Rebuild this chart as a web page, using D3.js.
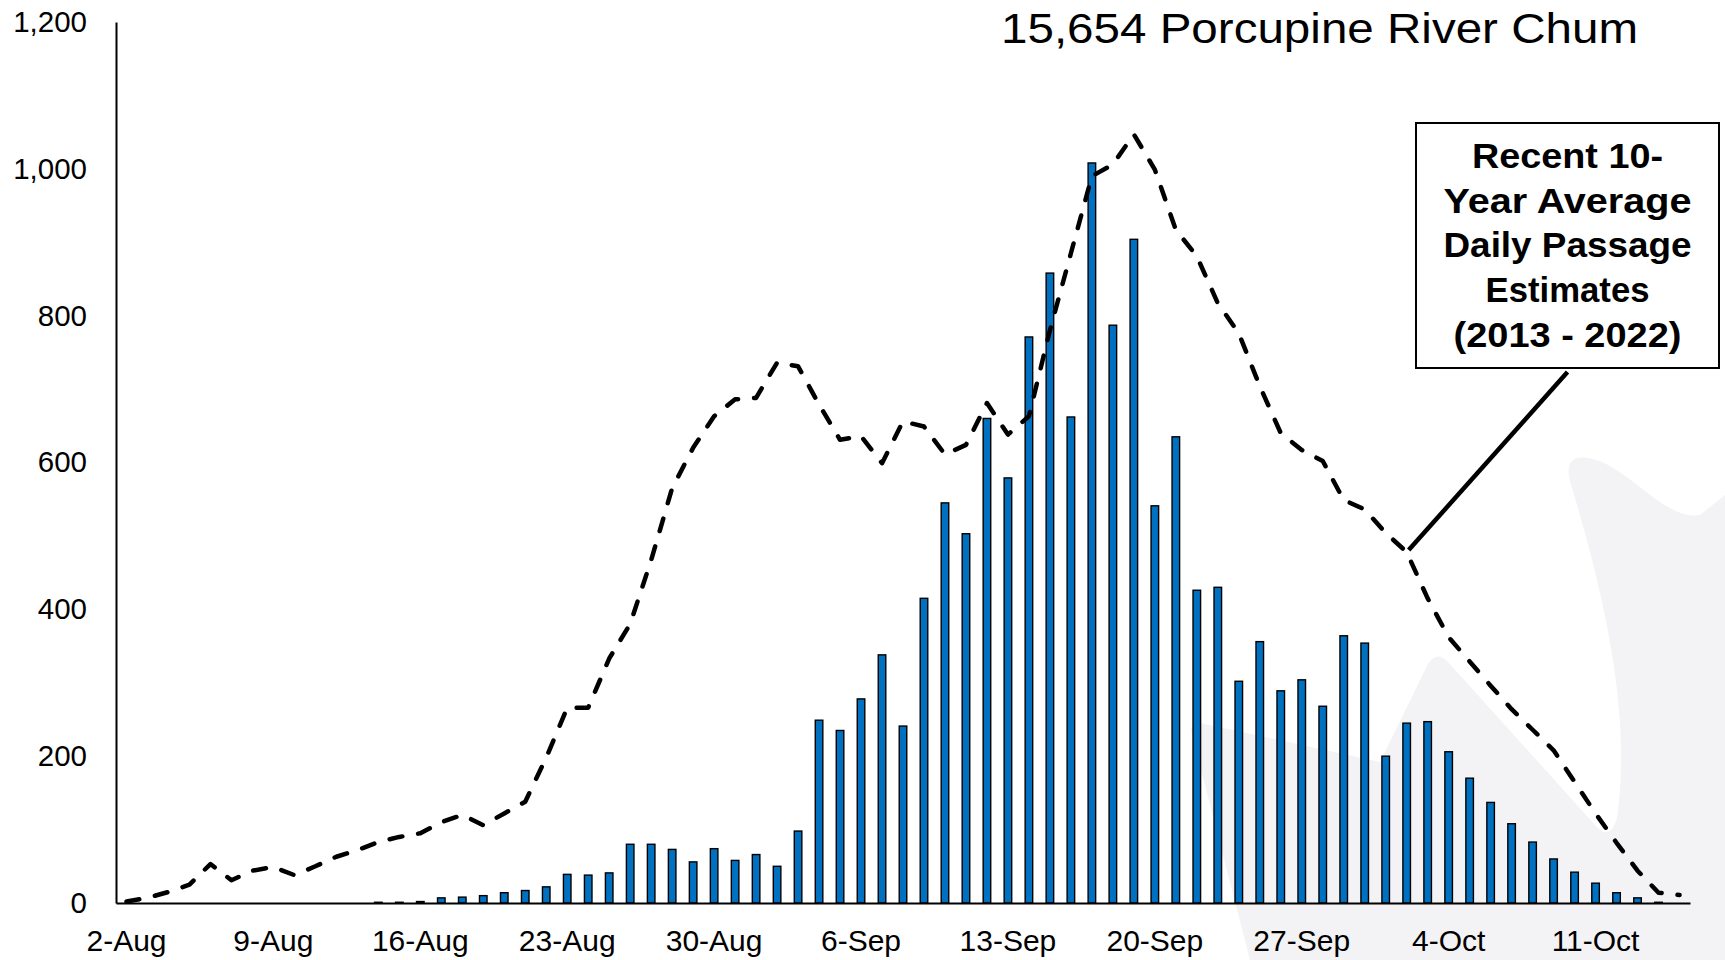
<!DOCTYPE html>
<html>
<head>
<meta charset="utf-8">
<script src="https://d3js.org/d3.v7.min.js"></script>
<style>
  html, body { margin: 0; padding: 0; background: #fff; }
  svg { display: block; }
  text { font-family: "Liberation Sans", Arial, sans-serif; fill: #000; }
</style>
</head>
<body>
<div id="chart"></div>
<script>
// days on the x axis (2-Aug .. 15-Oct)
var days = [
  "2-Aug","3-Aug","4-Aug","5-Aug","6-Aug","7-Aug","8-Aug","9-Aug","10-Aug","11-Aug",
  "12-Aug","13-Aug","14-Aug","15-Aug","16-Aug","17-Aug","18-Aug","19-Aug","20-Aug","21-Aug",
  "22-Aug","23-Aug","24-Aug","25-Aug","26-Aug","27-Aug","28-Aug","29-Aug","30-Aug","31-Aug",
  "1-Sep","2-Sep","3-Sep","4-Sep","5-Sep","6-Sep","7-Sep","8-Sep","9-Sep","10-Sep",
  "11-Sep","12-Sep","13-Sep","14-Sep","15-Sep","16-Sep","17-Sep","18-Sep","19-Sep","20-Sep",
  "21-Sep","22-Sep","23-Sep","24-Sep","25-Sep","26-Sep","27-Sep","28-Sep","29-Sep","30-Sep",
  "1-Oct","2-Oct","3-Oct","4-Oct","5-Oct","6-Oct","7-Oct","8-Oct","9-Oct","10-Oct",
  "11-Oct","12-Oct","13-Oct","14-Oct","15-Oct"
];

// 2023 daily passage (bars)
var passage = [
  0,0,0,0,0,0,0,0,0,0,
  0,0,1,1,2,7,8,10,14,17,
  22,39,38,41,80,80,73,56,74,58,
  66,50,98,249,235,278,338,241,415,545,
  503,660,579,771,858,662,1008,787,904,541,
  635,426,430,302,356,289,304,268,364,354,
  200,245,247,206,170,137,108,83,60,42,
  27,14,7,1,0
];

// recent 10-year average daily passage (dashed line)
var average = [
  2,7,15,25,53,31,44,49,38,50,
  63,72,83,90,95,110,120,106,122,138,
  198,266,266,333,380,467,565,620,663,686,
  688,736,731,679,631,636,599,656,649,611,
  624,681,638,663,780,885,990,1006,1047,999,
  917,881,817,776,704,640,617,602,549,536,
  504,478,415,362,329,296,264,236,208,165,
  122,82,44,14,11
];

var xTicks = ["2-Aug","9-Aug","16-Aug","23-Aug","30-Aug","6-Sep","13-Sep","20-Sep","27-Sep","4-Oct","11-Oct"];
var yTicks = [0,200,400,600,800,1000,1200];

var title = "15,654 Porcupine River Chum";
var noteLines = ["Recent 10-","Year Average","Daily Passage","Estimates","(2013 - 2022)"];
var noteWidths = [191,248,248,164,228];
var pointedDay = "2-Oct";

var W = 1725, H = 960;
var plotLeft = 116, plotRight = 1690, plotTop = 22, plotBottom = 903;

var svg = d3.select("#chart").append("svg")
    .attr("width", W)
    .attr("height", H);

svg.append("rect").attr("width", W).attr("height", H).attr("fill", "#fff");

// faint watermark shape in the lower right
svg.append("path")
    .attr("d", "M1250,960 L1192,735 Q1188,718 1205,724 L1380,762 L1428,664 Q1437,650 1448,662 " +
               "L1596,826 Q1610,842 1617,818 C1628,740 1618,640 1572,488 Q1558,446 1602,462 " +
               "C1640,480 1668,520 1700,515 L1725,495 L1725,960 Z")
    .attr("fill", "#f3f3f5");

var x = d3.scaleBand()
    .domain(days)
    .range([plotLeft, plotRight])
    .paddingInner(0.64)
    .paddingOuter(0.32);

var y = d3.scaleLinear()
    .domain([0, 1200])
    .range([plotBottom, plotTop]);

var cx = function(d) { return x(d) + x.bandwidth() / 2; };

// bars
svg.append("g").selectAll("rect")
    .data(days.map(function(d, i) { return {day: d, v: passage[i]}; }).filter(function(d) { return d.v > 0; }))
    .enter().append("rect")
    .attr("x", function(d) { return x(d.day); })
    .attr("y", function(d) { return y(d.v); })
    .attr("width", x.bandwidth())
    .attr("height", function(d) { return y(0) - y(d.v); })
    .attr("fill", "#0070c0")
    .attr("stroke", "#000")
    .attr("stroke-width", 1.4);

// 10-year average
var line = d3.line()
    .x(function(d, i) { return cx(days[i]); })
    .y(function(d) { return y(d); });

svg.append("path")
    .datum(average)
    .attr("d", line)
    .attr("fill", "none")
    .attr("stroke", "#000")
    .attr("stroke-width", 4.5)
    .attr("stroke-linecap", "round")
    .attr("stroke-linejoin", "round")
    .attr("stroke-dasharray", "13,16");

// axes
var yAxis = d3.axisLeft(y).tickValues(yTicks).tickSize(0).tickPadding(29).tickFormat(d3.format(","));
var gy = svg.append("g").attr("transform", "translate(" + plotLeft + ",0)").call(yAxis);
gy.select(".domain").attr("stroke", "#000").attr("stroke-width", 2);
gy.selectAll("text").attr("font-size", 29.5).attr("font-family", "Liberation Sans, Arial, sans-serif");

var xAxis = d3.axisBottom(x).tickValues(xTicks).tickSize(0).tickPadding(27);
var gx = svg.append("g").attr("transform", "translate(0," + plotBottom + ")").call(xAxis);
gx.select(".domain").attr("stroke", "#000").attr("stroke-width", 2);
gx.selectAll("text").attr("font-size", 30).attr("font-family", "Liberation Sans, Arial, sans-serif");

// title
svg.append("text")
    .attr("x", 1638)
    .attr("y", 43)
    .attr("text-anchor", "end")
    .attr("font-size", 42)
    .attr("textLength", 637)
    .attr("lengthAdjust", "spacingAndGlyphs")
    .text(title);

// annotation box
var box = {x: 1416, y: 123, w: 303, h: 245};
var pi = days.indexOf(pointedDay);
svg.append("line")
    .attr("x1", box.x + box.w / 2)
    .attr("y1", box.y + box.h + 4)
    .attr("x2", cx(pointedDay) + 2)
    .attr("y2", y(average[pi]) - 2)
    .attr("stroke", "#000")
    .attr("stroke-width", 4.5);

svg.append("rect")
    .attr("x", box.x).attr("y", box.y)
    .attr("width", box.w).attr("height", box.h)
    .attr("fill", "#fff")
    .attr("stroke", "#000")
    .attr("stroke-width", 2);

svg.append("g").selectAll("text")
    .data(noteLines)
    .enter().append("text")
    .attr("x", box.x + box.w / 2)
    .attr("y", function(d, i) { return 168 + i * 44.7; })
    .attr("text-anchor", "middle")
    .attr("font-size", 35)
    .attr("font-weight", "bold")
    .attr("textLength", function(d, i) { return noteWidths[i]; })
    .attr("lengthAdjust", "spacingAndGlyphs")
    .text(function(d) { return d; });
</script>
</body>
</html>
